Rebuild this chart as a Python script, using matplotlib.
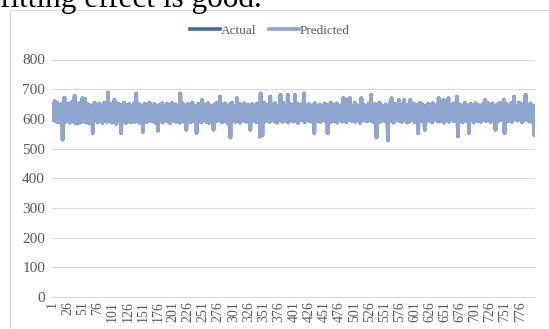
import numpy as np
import matplotlib.pyplot as plt
import matplotlib.patches as patches

plt.rcParams['font.family'] = 'Liberation Serif'
fontsize = 11
plt.rcParams['font.size'] = fontsize

# series (800 points, 25 per row)
actual = [
    605, 648, 596, 652, 660, 598, 641, 590, 655, 612, 633, 588, 646, 601, 638, 592, 650, 530, 624, 607, 672, 589, 643, 598, 636,
    594, 651, 603, 629, 587, 645, 610, 656, 592, 640, 599, 633, 678, 586, 628, 615, 649, 584, 637, 604, 653, 595, 622, 589, 644,
    670, 596, 641, 606, 668, 588, 632, 613, 650, 594, 639, 585, 646, 609, 627, 591, 643, 552, 618, 600, 655, 597, 631, 612, 648,
    589, 636, 603, 651, 593, 629, 616, 645, 586, 638, 600, 654, 595, 623, 610, 647, 590, 689, 601, 642, 592, 634, 608, 650, 587,
    640, 605, 625, 664, 594, 644, 583, 637, 611, 652, 596, 630, 602, 648, 552, 621, 608, 643, 591, 655, 599, 635, 586, 646, 613,
    628, 592, 650, 604, 639, 588, 645, 609, 632, 597, 653, 590, 626, 614, 686, 593, 641, 601, 636, 587, 649, 606, 624, 595, 644,
    556, 633, 610, 651, 598, 627, 589, 646, 603, 638, 593, 655, 600, 630, 616, 642, 591, 624, 607, 650, 596, 637, 585, 645, 612,
    560, 639, 600, 648, 594, 626, 609, 653, 588, 634, 604, 644, 597, 622, 615, 651, 592, 636, 603, 647, 586, 629, 611, 654, 598,
    641, 593, 632, 607, 649, 590, 625, 613, 645, 599, 638, 587, 686, 604, 628, 596, 652, 591, 635, 610, 643, 585, 563, 617, 650,
    595, 633, 606, 647, 589, 624, 612, 655, 600, 640, 592, 630, 605, 644, 552, 637, 602, 651, 594, 627, 614, 646, 588, 664, 601,
    636, 597, 649, 608, 623, 590, 642, 611, 653, 586, 632, 603, 645, 596, 639, 609, 628, 563, 648, 599, 634, 592, 654, 606, 625,
    615, 641, 594, 675, 601, 630, 588, 646, 610, 637, 597, 652, 591, 626, 605, 643, 584, 638, 612, 649, 537, 622, 603, 655, 596,
    633, 608, 644, 590, 629, 614, 670, 593, 640, 602, 651, 587, 624, 611, 647, 599, 636, 594, 653, 606, 627, 590, 642, 613, 648,
    597, 631, 604, 563, 638, 592, 650, 609, 623, 595, 645, 601, 634, 588, 652, 607, 629, 596, 644, 540, 686, 612, 637, 545, 641,
    600, 654, 591, 626, 610, 647, 594, 639, 605, 650, 589, 675, 603, 632, 598, 646, 614, 625, 592, 653, 601, 636, 587, 643, 609,
    628, 596, 649, 681, 604, 638, 590, 655, 611, 627, 599, 644, 593, 633, 607, 681, 588, 640, 602, 651, 597, 622, 615, 647, 591,
    636, 603, 681, 594, 630, 609, 652, 586, 641, 600, 625, 613, 648, 595, 637, 606, 654, 686, 589, 632, 611, 645, 598, 628, 604,
    650, 592, 639, 607, 623, 596, 646, 588, 634, 552, 653, 601, 627, 614, 643, 593, 638, 605, 649, 590, 631, 612, 644, 597, 624,
    609, 651, 594, 637, 603, 646, 552, 629, 615, 641, 588, 655, 600, 633, 606, 648, 592, 626, 610, 642, 596, 652, 587, 636, 613,
    630, 598, 645, 604, 639, 591, 653, 670, 595, 628, 611, 647, 589, 664, 602, 634, 597, 650, 670, 607, 625, 593, 643, 614, 638,
    600, 654, 590, 632, 608, 646, 596, 627, 612, 641, 586, 651, 670, 603, 636, 594, 648, 609, 623, 599, 644, 591, 638, 615, 652,
    597, 629, 606, 681, 593, 643, 602, 635, 588, 650, 611, 626, 537, 647, 598, 640, 604, 655, 590, 631, 613, 645, 595, 637, 607,
    624, 592, 649, 601, 634, 589, 527, 642, 610, 653, 596, 628, 670, 603, 646, 587, 638, 611, 651, 594, 627, 606, 644, 599, 664,
    593, 632, 612, 648, 590, 640, 601, 655, 664, 597, 625, 609, 645, 588, 636, 604, 650, 592, 664, 614, 643, 598, 630, 606, 652,
    589, 637, 603, 647, 595, 626, 552, 641, 611, 654, 592, 633, 600, 649, 607, 622, 596, 563, 644, 590, 635, 613, 651, 601, 628,
    594, 646, 605, 639, 588, 653, 610, 631, 597, 643, 602, 624, 615, 650, 591, 670, 604, 636, 593, 648, 609, 627, 599, 664, 587,
    641, 606, 655, 595, 634, 612, 670, 590, 629, 603, 645, 598, 638, 608, 652, 592, 626, 614, 647, 596, 675, 601, 541, 632, 610,
    649, 593, 637, 604, 643, 589, 630, 611, 654, 597, 625, 606, 646, 591, 640, 552, 634, 600, 651, 595, 628, 613, 644, 588, 636,
    602, 653, 596, 627, 609, 648, 592, 639, 605, 645, 590, 632, 614, 650, 598, 624, 607, 664, 593, 641, 601, 655, 597, 630, 611,
    646, 589, 638, 604, 652, 595, 627, 612, 643, 563, 635, 600, 649, 591, 629, 608, 654, 596, 640, 603, 626, 614, 647, 664, 552,
    633, 599, 651, 606, 624, 592, 645, 610, 637, 597, 653, 590, 631, 604, 648, 675, 601, 628, 613, 644, 594, 639, 607, 655, 598,
    626, 611, 650, 589, 642, 604, 635, 596, 653, 681, 600, 629, 615, 647, 593, 638, 606, 652, 591, 624, 610, 645, 597, 546, 618,
]

predicted = [
    606, 647, 597, 651, 659, 599, 640, 591, 654, 612, 632, 589, 645, 602, 637, 593, 649, 531, 623, 608, 671, 590, 642, 599, 635,
    595, 650, 604, 628, 588, 644, 611, 655, 593, 639, 600, 632, 677, 587, 627, 616, 648, 585, 636, 605, 652, 596, 621, 590, 643,
    669, 597, 640, 607, 667, 589, 631, 614, 649, 595, 638, 586, 645, 610, 626, 592, 642, 553, 617, 601, 654, 598, 630, 613, 647,
    590, 635, 604, 650, 594, 628, 617, 644, 587, 637, 601, 653, 596, 622, 611, 646, 591, 688, 602, 641, 593, 633, 609, 649, 588,
    639, 606, 624, 663, 595, 643, 584, 636, 612, 651, 597, 629, 603, 647, 553, 620, 609, 642, 592, 654, 600, 634, 587, 645, 614,
    627, 593, 649, 605, 638, 589, 644, 610, 631, 598, 652, 591, 625, 615, 685, 594, 640, 602, 635, 588, 648, 607, 623, 596, 643,
    557, 632, 611, 650, 599, 626, 590, 645, 604, 637, 594, 654, 601, 629, 617, 641, 592, 623, 608, 649, 597, 636, 586, 644, 613,
    561, 638, 601, 647, 595, 625, 610, 652, 589, 633, 605, 643, 598, 621, 616, 650, 593, 635, 604, 646, 587, 628, 612, 653, 599,
    640, 594, 631, 608, 648, 591, 624, 614, 644, 600, 637, 588, 685, 605, 627, 597, 651, 592, 634, 611, 642, 586, 564, 616, 649,
    596, 632, 607, 646, 590, 623, 613, 654, 601, 639, 593, 629, 606, 643, 553, 636, 603, 650, 595, 626, 615, 645, 589, 663, 602,
    635, 598, 648, 609, 622, 591, 641, 612, 652, 587, 631, 604, 644, 597, 638, 610, 627, 564, 647, 600, 633, 593, 653, 607, 624,
    616, 640, 595, 674, 602, 629, 589, 645, 611, 636, 598, 651, 592, 625, 606, 642, 585, 637, 613, 648, 538, 621, 604, 654, 597,
    632, 609, 643, 591, 628, 615, 669, 594, 639, 603, 650, 588, 623, 612, 646, 600, 635, 595, 652, 607, 626, 591, 641, 614, 647,
    598, 630, 605, 564, 637, 593, 649, 610, 622, 596, 644, 602, 633, 589, 651, 608, 628, 597, 643, 541, 685, 613, 636, 546, 640,
    601, 653, 592, 625, 611, 646, 595, 638, 606, 649, 590, 674, 604, 631, 599, 645, 615, 624, 593, 652, 602, 635, 588, 642, 610,
    627, 597, 648, 680, 605, 637, 591, 654, 612, 626, 600, 643, 594, 632, 608, 680, 589, 639, 603, 650, 598, 621, 616, 646, 592,
    635, 604, 680, 595, 629, 610, 651, 587, 640, 601, 624, 614, 647, 596, 636, 607, 653, 685, 590, 631, 612, 644, 599, 627, 605,
    649, 593, 638, 608, 622, 597, 645, 589, 633, 553, 652, 602, 626, 615, 642, 594, 637, 606, 648, 591, 630, 613, 643, 598, 623,
    610, 650, 595, 636, 604, 645, 553, 628, 616, 640, 589, 654, 601, 632, 607, 647, 593, 625, 611, 641, 597, 651, 588, 635, 614,
    629, 599, 644, 605, 638, 592, 652, 669, 596, 627, 612, 646, 590, 663, 603, 633, 598, 649, 669, 608, 624, 594, 642, 615, 637,
    601, 653, 591, 631, 609, 645, 597, 626, 613, 640, 587, 650, 669, 604, 635, 595, 647, 610, 622, 600, 643, 592, 637, 616, 651,
    598, 628, 607, 680, 594, 642, 603, 634, 589, 649, 612, 625, 538, 646, 599, 639, 605, 654, 591, 630, 614, 644, 596, 636, 608,
    623, 593, 648, 602, 633, 590, 528, 641, 611, 652, 597, 627, 669, 604, 645, 588, 637, 612, 650, 595, 626, 607, 643, 600, 663,
    594, 631, 613, 647, 591, 639, 602, 654, 663, 598, 624, 610, 644, 589, 635, 605, 649, 593, 663, 615, 642, 599, 629, 607, 651,
    590, 636, 604, 646, 596, 625, 553, 640, 612, 653, 593, 632, 601, 648, 608, 621, 597, 564, 643, 591, 634, 614, 650, 602, 627,
    595, 645, 606, 638, 589, 652, 611, 630, 598, 642, 603, 623, 616, 649, 592, 669, 605, 635, 594, 647, 610, 626, 600, 663, 588,
    640, 607, 654, 596, 633, 613, 669, 591, 628, 604, 644, 599, 637, 609, 651, 593, 625, 615, 646, 597, 674, 602, 542, 631, 611,
    648, 594, 636, 605, 642, 590, 629, 612, 653, 598, 624, 607, 645, 592, 639, 553, 633, 601, 650, 596, 627, 614, 643, 589, 635,
    603, 652, 597, 626, 610, 647, 593, 638, 606, 644, 591, 631, 615, 649, 599, 623, 608, 663, 594, 640, 602, 654, 598, 629, 612,
    645, 590, 637, 605, 651, 596, 626, 613, 642, 564, 634, 601, 648, 592, 628, 609, 653, 597, 639, 604, 625, 615, 646, 663, 553,
    632, 600, 650, 607, 623, 593, 644, 611, 636, 598, 652, 591, 630, 605, 647, 674, 602, 627, 614, 643, 595, 638, 608, 654, 599,
    625, 612, 649, 590, 641, 605, 634, 597, 652, 680, 601, 628, 616, 646, 594, 637, 607, 651, 592, 623, 611, 644, 598, 547, 617,
]
assert len(actual) == 800 and len(predicted) == 800

x = np.arange(len(actual))
tick_idx = np.arange(0, len(actual), 25)
tick_labels = [str(i + 1) for i in tick_idx]
yticks = [0, 100, 200, 300, 400, 500, 600, 700, 800]

fig = plt.figure(figsize=(5.49, 3.29), dpi=100)
W, H = 549.0, 329.0

# chart frame
fig.patches.append(patches.Rectangle((10 / W, -0.1), 2, 1 - 10.5 / H + 0.1,
                                     transform=fig.transFigure, fill=False,
                                     ec='#d9d9d9', lw=0.8))

# cut-off line of text above the chart
fig.text(0, 1 - 6.5 / H, "fitting effect is good.", fontsize=22.5,
         ha='left', va='baseline', color='black')

ax = fig.add_axes([52 / W, 1 - 297 / H, (535 - 52) / W, (297 - 59.5) / H])
ax.plot(x, actual, color='#44699b', lw=2.6, label='Actual', solid_joinstyle='round')
ax.plot(x, predicted, color='#8fa6d1', lw=2.6, label='Predicted', solid_joinstyle='round')

ax.set_xlim(-0.5, len(actual) - 0.5)
ax.set_ylim(0, 800)
ax.set_yticks(yticks)
ax.set_xticks(tick_idx)
ax.set_xticklabels(tick_labels, rotation=90)
ax.tick_params(axis='both', length=0, colors='#595959')
ax.tick_params(axis='y', pad=5, labelsize=11)
ax.tick_params(axis='x', pad=3, labelsize=10)
ax.grid(axis='y', color='#d9d9d9', lw=0.8)
ax.set_axisbelow(True)
for s in ['top', 'right', 'left']:
    ax.spines[s].set_visible(False)
ax.spines['bottom'].set_color('#d9d9d9')
ax.spines['bottom'].set_linewidth(0.8)

leg = fig.legend(loc='center', bbox_to_anchor=(270 / W, 1 - 31 / H), ncol=2,
                 frameon=False, handlelength=2.25, handletextpad=0.05,
                 columnspacing=1.0, fontsize=9.5)
for t in leg.get_texts():
    t.set_color('#595959')
for l in leg.get_lines():
    l.set_linewidth(2.6)

fig.savefig('out.png', dpi=100)
